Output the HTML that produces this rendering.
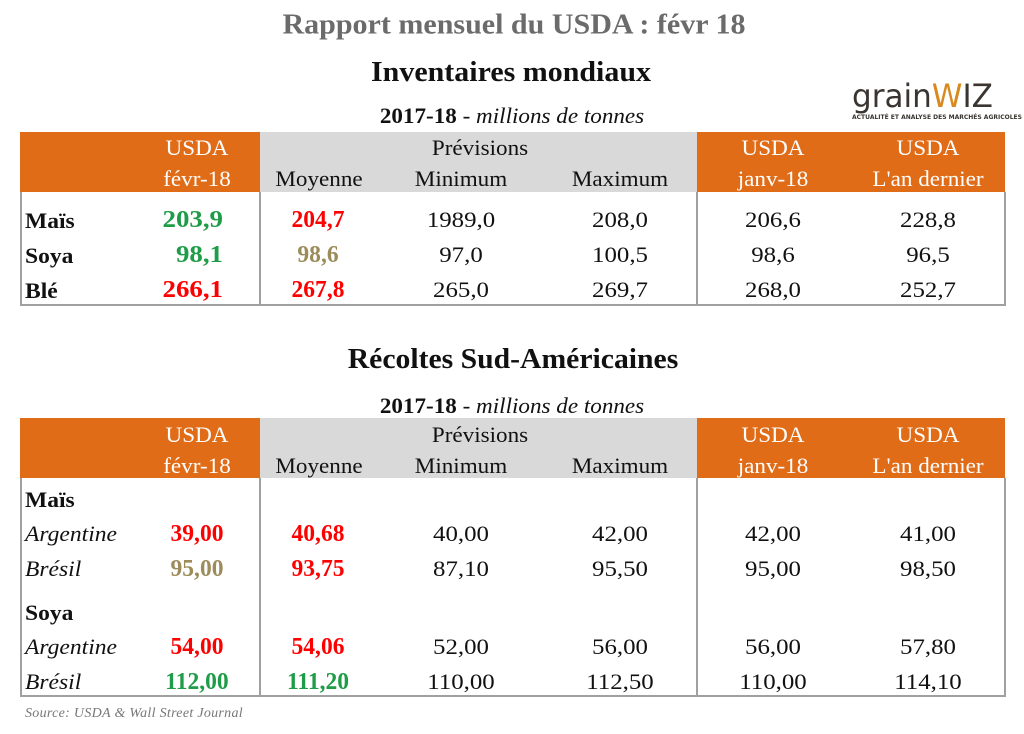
<!DOCTYPE html>
<html><head><meta charset="utf-8">
<style>
body{margin:0;width:1024px;height:734px;background:#fff;position:relative;overflow:hidden;font-family:"Liberation Serif",serif;}
div{position:absolute;}
.t{white-space:nowrap;line-height:1;transform:translate(-50%,-50%) scaleX(1.05);font-size:22px;color:#111;}
.n{transform:translate(-50%,-50%) scaleX(1.13);}
.r{white-space:nowrap;line-height:1;transform-origin:100% 50%;transform:translate(-100%,-50%) scaleX(1.12);font-size:24px;}
.l{white-space:nowrap;line-height:1;transform-origin:0 50%;transform:translate(0,-50%) scaleX(1.07);font-size:22px;color:#111;}
.w{color:#fff;}
.b{font-weight:bold;font-size:22px;}
.i{font-style:italic;}
.g{color:#1e9c48;font-weight:bold;font-size:24px;}
.rd{color:#ff0000;font-weight:bold;font-size:24px;}
.o{color:#9b8c5a;font-weight:bold;font-size:24px;}
.t.g,.t.rd,.t.o{transform:translate(-50%,-50%) scaleX(0.98);}
.or{background:#e06c17;}
.gr{background:#d9d9d9;}
.ln{background:#a0a0a0;}
</style></head><body>
<div class="t b" style="left:514px;top:25px;font-size:29px;color:#6b6b6b;transform:translate(-50%,-50%) scaleX(1.035);">Rapport mensuel du USDA : févr 18</div>
<div class="t b" style="left:511px;top:73px;font-size:28px;transform:translate(-50%,-50%) scaleX(1.07);">Inventaires mondiaux</div>
<div class="t" style="left:512px;top:116px;font-size:22px;"><b>2017-18</b> - <i>millions de tonnes</i></div>
<div style="left:852px;top:80px;width:160px;height:46px;">
<div style="left:0;top:0;font-family:'DejaVu Sans',sans-serif;font-size:32px;color:#3a3530;line-height:1;transform-origin:0 0;transform:scaleX(0.97);">grain<span style="color:#d98a1f">W</span>IZ</div>
<div style="left:0;top:34px;font-family:'DejaVu Sans',sans-serif;font-size:6px;color:#3a3530;white-space:nowrap;font-weight:bold;">ACTUALITÉ ET ANALYSE DES MARCHÉS AGRICOLES</div>
</div>

<!-- table 1 -->
<div style="left:0;top:0;width:1024px;height:734px;">
<div class="or" style="left:20px;top:132px;width:240px;height:60px;"></div>
<div class="gr" style="left:260px;top:132px;width:437px;height:60px;"></div>
<div class="or" style="left:697px;top:132px;width:308px;height:60px;"></div>
<div class="ln" style="left:20px;top:192px;width:2px;height:114px;"></div>
<div class="ln" style="left:259px;top:192px;width:2px;height:114px;"></div>
<div class="ln" style="left:696px;top:192px;width:2px;height:114px;"></div>
<div class="ln" style="left:1004px;top:192px;width:2px;height:114px;"></div>
<div class="ln" style="left:20px;top:304px;width:986px;height:2px;"></div>
<div class="t w" style="left:197px;top:148px;">USDA</div>
<div class="t w" style="left:197px;top:179px;">févr-18</div>
<div class="t" style="left:480px;top:148px;">Prévisions</div>
<div class="t" style="left:319px;top:179px;">Moyenne</div>
<div class="t" style="left:461px;top:179px;">Minimum</div>
<div class="t" style="left:620px;top:179px;">Maximum</div>
<div class="t w" style="left:773px;top:148px;">USDA</div>
<div class="t w" style="left:773px;top:179px;">janv-18</div>
<div class="t w" style="left:928px;top:148px;">USDA</div>
<div class="t w" style="left:928px;top:179px;">L'an dernier</div>

<div class="l b" style="left:25px;top:221px;">Maïs</div>
<div class="r g" style="left:223px;top:220px;">203,9</div>
<div class="t rd" style="left:318px;top:220px;">204,7</div>
<div class="t n" style="left:461px;top:220px;">1989,0</div>
<div class="t n" style="left:620px;top:220px;">208,0</div>
<div class="t n" style="left:773px;top:220px;">206,6</div>
<div class="t n" style="left:928px;top:220px;">228,8</div>

<div class="l b" style="left:25px;top:256px;">Soya</div>
<div class="r g" style="left:223px;top:255px;">98,1</div>
<div class="t o" style="left:318px;top:255px;">98,6</div>
<div class="t n" style="left:461px;top:255px;">97,0</div>
<div class="t n" style="left:620px;top:255px;">100,5</div>
<div class="t n" style="left:773px;top:255px;">98,6</div>
<div class="t n" style="left:928px;top:255px;">96,5</div>

<div class="l b" style="left:25px;top:291px;">Blé</div>
<div class="r rd" style="left:223px;top:290px;">266,1</div>
<div class="t rd" style="left:318px;top:290px;">267,8</div>
<div class="t n" style="left:461px;top:290px;">265,0</div>
<div class="t n" style="left:620px;top:290px;">269,7</div>
<div class="t n" style="left:773px;top:290px;">268,0</div>
<div class="t n" style="left:928px;top:290px;">252,7</div>
</div>

<div class="t b" style="left:513px;top:360px;font-size:28px;transform:translate(-50%,-50%) scaleX(1.06);">Récoltes Sud-Américaines</div>
<div class="t" style="left:512px;top:406px;font-size:22px;"><b>2017-18</b> - <i>millions de tonnes</i></div>

<!-- table 2 -->
<div style="left:0;top:0;width:1024px;height:734px;">
<div class="or" style="left:20px;top:418px;width:240px;height:60px;"></div>
<div class="gr" style="left:260px;top:418px;width:437px;height:60px;"></div>
<div class="or" style="left:697px;top:418px;width:308px;height:60px;"></div>
<div class="ln" style="left:20px;top:478px;width:2px;height:219px;"></div>
<div class="ln" style="left:259px;top:478px;width:2px;height:219px;"></div>
<div class="ln" style="left:696px;top:478px;width:2px;height:219px;"></div>
<div class="ln" style="left:1004px;top:478px;width:2px;height:219px;"></div>
<div class="ln" style="left:20px;top:695px;width:986px;height:2px;"></div>
<div class="t w" style="left:197px;top:435px;">USDA</div>
<div class="t w" style="left:197px;top:466px;">févr-18</div>
<div class="t" style="left:480px;top:435px;">Prévisions</div>
<div class="t" style="left:319px;top:466px;">Moyenne</div>
<div class="t" style="left:461px;top:466px;">Minimum</div>
<div class="t" style="left:620px;top:466px;">Maximum</div>
<div class="t w" style="left:773px;top:435px;">USDA</div>
<div class="t w" style="left:773px;top:466px;">janv-18</div>
<div class="t w" style="left:928px;top:435px;">USDA</div>
<div class="t w" style="left:928px;top:466px;">L'an dernier</div>

<div class="l b" style="left:25px;top:500px;">Maïs</div>
<div class="l i" style="left:25px;top:534px;">Argentine</div>
<div class="t rd" style="left:197px;top:534px;">39,00</div>
<div class="t rd" style="left:318px;top:534px;">40,68</div>
<div class="t n" style="left:461px;top:534px;">40,00</div>
<div class="t n" style="left:620px;top:534px;">42,00</div>
<div class="t n" style="left:773px;top:534px;">42,00</div>
<div class="t n" style="left:928px;top:534px;">41,00</div>

<div class="l i" style="left:25px;top:569px;">Brésil</div>
<div class="t o" style="left:197px;top:569px;">95,00</div>
<div class="t rd" style="left:318px;top:569px;">93,75</div>
<div class="t n" style="left:461px;top:569px;">87,10</div>
<div class="t n" style="left:620px;top:569px;">95,50</div>
<div class="t n" style="left:773px;top:569px;">95,00</div>
<div class="t n" style="left:928px;top:569px;">98,50</div>

<div class="l b" style="left:25px;top:613px;">Soya</div>
<div class="l i" style="left:25px;top:647px;">Argentine</div>
<div class="t rd" style="left:197px;top:647px;">54,00</div>
<div class="t rd" style="left:318px;top:647px;">54,06</div>
<div class="t n" style="left:461px;top:647px;">52,00</div>
<div class="t n" style="left:620px;top:647px;">56,00</div>
<div class="t n" style="left:773px;top:647px;">56,00</div>
<div class="t n" style="left:928px;top:647px;">57,80</div>

<div class="l i" style="left:25px;top:682px;">Brésil</div>
<div class="t g" style="left:197px;top:682px;">112,00</div>
<div class="t g" style="left:318px;top:682px;">111,20</div>
<div class="t n" style="left:461px;top:682px;">110,00</div>
<div class="t n" style="left:620px;top:682px;">112,50</div>
<div class="t n" style="left:773px;top:682px;">110,00</div>
<div class="t n" style="left:928px;top:682px;">114,10</div>
</div>

<div class="l i" style="left:25px;top:714px;font-size:14px;color:#777;letter-spacing:0.3px;transform:translate(0,-50%);">Source: USDA &amp; Wall Street Journal</div>
</body></html>
